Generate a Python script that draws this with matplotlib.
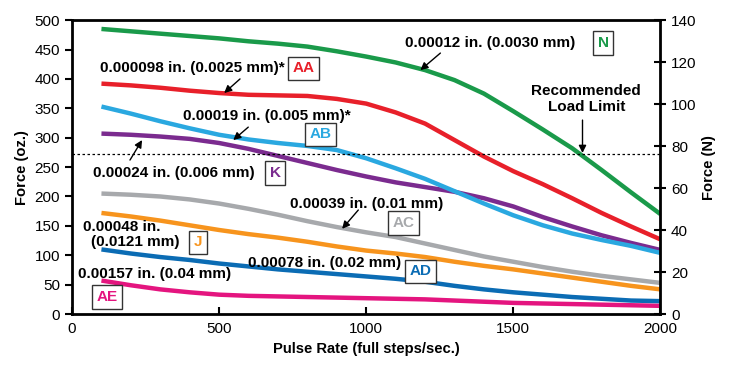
import numpy as np
import matplotlib.pyplot as plt

plt.rcParams['font.family'] = ['Liberation Sans', 'DejaVu Sans']

# pulse rate (full steps/sec)
rate = list(range(100, 2001, 100))

# force (oz.) per series
force_N = [485, 481, 477, 473, 469, 464, 460, 455, 447, 438,
           428, 415, 398, 375, 345, 314, 282, 245, 207, 170]
force_AA = [392, 389, 385, 380, 376, 373, 372, 371, 366, 358,
            343, 324, 296, 268, 243, 221, 197, 172, 149, 127]
force_AB = [353, 341, 328, 316, 305, 297, 291, 286, 279, 265,
            248, 230, 209, 188, 168, 151, 137, 126, 116, 104]
force_K = [307, 305, 302, 298, 291, 281, 269, 257, 245, 234,
           224, 216, 208, 197, 183, 165, 149, 134, 121, 109]
force_AC = [205, 203, 200, 195, 188, 179, 169, 158, 148, 139,
            131, 120, 109, 98, 89, 80, 72, 65, 59, 53]
force_J = [172, 166, 159, 151, 143, 136, 130, 123, 115, 108,
           103, 97, 89, 82, 76, 69, 62, 55, 48, 42]
force_AD = [110, 103, 97, 92, 86, 81, 76, 72, 68, 64,
            60, 55, 48, 42, 37, 33, 29, 26, 23, 22]
force_AE = [57, 49, 42, 37, 33, 31, 30, 29, 28, 27,
            26, 25, 23, 21, 19, 18, 17, 16, 15, 14]

load_limit = 272

green = '#1a9a4a'
red = '#e8202a'
ltblue = '#2aa8e0'
purple = '#7b2b8f'
gray = '#a7a9ac'
orange = '#f7941d'
dkblue = '#0b6cb4'
magenta = '#e4157f'

fig = plt.figure(figsize=(7.29, 3.73), dpi=100)
ax = fig.add_axes([0.0988, 0.158, 0.8072, 0.788])

series = [(force_AE, magenta), (force_AD, dkblue), (force_J, orange), (force_AC, gray),
          (force_K, purple), (force_AB, ltblue), (force_AA, red), (force_N, green)]
for f, c in series:
    ax.plot(rate, f, color=c, lw=3.2, solid_capstyle='butt', solid_joinstyle='round')

ax.axhline(load_limit, color='black', lw=0.9, ls=(0, (2, 2)))

ax.set_xlim(0, 2000)
ax.set_ylim(0, 500)
ax.set_xticks([0, 500, 1000, 1500, 2000])
ax.set_yticks(range(0, 501, 50))
ax.tick_params(axis='y', direction='out', length=5, width=1.5, labelsize=11)
ax.tick_params(axis='x', direction='in', length=5, width=1.5, labelsize=11, pad=6)
for s in ax.spines.values():
    s.set_linewidth(2)

ax.set_xlabel('Pulse Rate (full steps/sec.)', fontsize=10.6, fontweight='bold')
ax.set_ylabel('Force (oz.)', fontsize=10.6, fontweight='bold', labelpad=4)

ax2 = ax.twinx()
ax2.set_ylim(0, 140)
ax2.set_yticks(range(0, 141, 20))
ax2.tick_params(axis='y', direction='inout', length=8, width=1.5, labelsize=11)
ax2.set_ylabel('Force (N)', fontsize=10.6, fontweight='bold', labelpad=4)
for s in ax2.spines.values():
    s.set_visible(False)

tk = dict(fontsize=11, fontweight='bold', va='center')
box = dict(boxstyle='square,pad=0.3', fc='white', ec='#333333', lw=1)

def tag(x, y, text, color):
    ax.text(x, y, text, color=color, fontsize=11, fontweight='bold',
            ha='center', va='center', bbox=box)

def arrow(x0, y0, x1, y1):
    ax.annotate('', xy=(x1, y1), xytext=(x0, y0),
                arrowprops=dict(arrowstyle='-|>', color='black', lw=1,
                                mutation_scale=11, shrinkA=0, shrinkB=0))

ax.text(1711, 461, '0.00012 in. (0.0030 mm)', ha='right', **tk)
tag(1806, 461, 'N', green)
arrow(1252, 444, 1184, 415)

ax.text(724, 418, '0.000098 in. (0.0025 mm)*', ha='right', **tk)
tag(786, 418, 'AA', red)
arrow(571, 400, 517, 376)

ax.text(946, 337, '0.00019 in. (0.005 mm)*', ha='right', **tk)
tag(844, 306, 'AB', ltblue)
arrow(599, 318, 548, 296)

ax.text(622, 240, '0.00024 in. (0.006 mm)', ha='right', **tk)
tag(690, 240, 'K', purple)
arrow(197, 262, 238, 296)

ax.text(741, 187, '0.00039 in. (0.01 mm)', ha='left', **tk)
tag(1126, 155, 'AC', gray)
arrow(973, 177, 918, 145)

ax.text(37, 148, '0.00048 in.', ha='left', **tk)
ax.text(64, 122, '(0.0121 mm)', ha='left', **tk)
tag(429, 122, 'J', orange)

ax.text(599, 87, '0.00078 in. (0.02 mm)', ha='left', **tk)
tag(1184, 73, 'AD', dkblue)

ax.text(20, 68, '0.00157 in. (0.04 mm)', ha='left', **tk)
tag(119, 29, 'AE', magenta)

ax.text(1748, 366, 'Recommended\nLoad Limit', ha='center', va='center',
        fontsize=11, fontweight='bold', linespacing=1.25)
arrow(1735, 330, 1735, 274)

fig.savefig('out.png', dpi=100)
